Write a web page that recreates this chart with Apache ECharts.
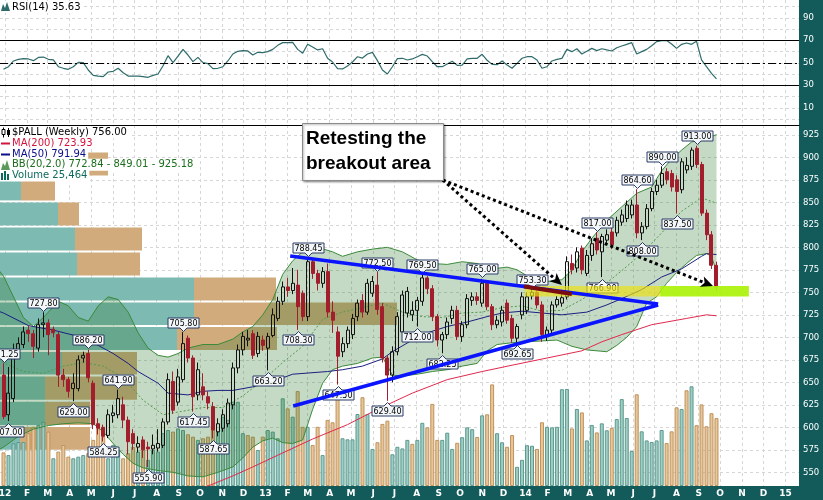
<!DOCTYPE html>
<html>
<head>
<meta charset="utf-8">
<script src="https://cdn.jsdelivr.net/npm/echarts@6/dist/echarts.min.js"></script>
<style>
  html, body { margin: 0; padding: 0; background: #fff; }
  #chart { width: 823px; height: 500px; }
</style>
</head>
<body>
<div id="chart"></div>
<script>
// weekly bars, week 0 = Fri 30 Dec 2011 ... week 143 = Fri 26 Sep 2014
const FIRST_WEEK = Date.UTC(2011, 11, 30)
const WEEK_MS = 7 * 86400000
const monthLetters = ['J', 'F', 'M', 'A', 'M', 'J', 'J', 'A', 'S', 'O', 'N', 'D']
const yearLabels = { 2012: '12', 2013: '13', 2014: '14', 2015: '15' }

// [open, close, low, high]
const candles = [
  [658, 612, 609, 671.25], [614, 638, 607, 667], [632, 682, 628, 693], [680, 693, 676, 700], [692, 706, 688, 712],
  [708, 704, 695, 713], [704, 690, 677, 708], [688, 714, 684, 721], [714, 716, 700, 727.8], [716, 703, 680, 720],
  [709, 705, 700, 712], [703, 658, 645, 706], [658, 653, 645, 665], [653, 640, 633, 656], [643, 649, 629, 660],
  [643, 675, 640, 680], [677, 680, 672, 684], [682, 655, 650, 686.2], [649, 603, 598, 652], [604, 599, 592, 610],
  [600, 590, 584.25, 603], [591, 614, 588, 620], [613, 616, 605, 625], [614, 632, 610, 641.9], [625, 608, 599, 634],
  [608, 584, 570, 612], [593, 582, 575, 598], [578, 582, 572, 590], [586, 575, 566, 590], [578, 576, 555.9, 584],
  [576, 580, 570, 592], [577, 582, 573, 598], [580, 606, 577, 610], [606, 653, 603, 660], [651, 619, 615, 662],
  [628, 656, 624, 665], [653, 693, 650, 705.8], [699, 677, 672, 702], [677, 634, 617.45, 680], [636, 664, 630, 672],
  [645, 636, 630, 660], [634, 627, 620, 640], [623, 597, 587.65, 628], [595, 604, 590, 610], [599, 614, 595, 620],
  [604, 627, 600, 632], [625, 666, 620, 672], [666, 686, 660, 692], [686, 701, 680, 706], [697, 699, 690, 708],
  [704, 680, 676, 708], [682, 701, 678, 706], [697, 691, 685, 702], [688, 701, 663.2, 705], [702, 725, 700, 732],
  [721, 740, 718, 745], [740, 756, 736, 762], [756, 752, 745, 766], [752, 760, 748, 777], [758, 734, 708.3, 775],
  [749, 723, 718, 752], [723, 784, 718, 788.45], [784, 771, 765, 788], [771, 760, 752, 775], [760, 773, 755, 778],
  [773, 728, 722, 782], [728, 719, 705, 740], [706, 679, 647.5, 712], [684, 693, 678, 700], [693, 708, 688, 712],
  [703, 721, 698, 726], [723, 738, 718, 742], [741, 728, 722, 748], [728, 760, 725, 765], [749, 762, 745, 768],
  [758, 731, 725, 772.5], [734, 677, 672, 738], [677, 658, 629.4, 680], [658, 684, 650, 690], [684, 723, 680, 728],
  [706, 747, 700, 752], [727, 751, 722, 756], [725, 730, 718, 740], [730, 741, 712, 745], [740, 766, 735, 769.5],
  [766, 754, 748, 768], [754, 723, 718, 758], [723, 697, 690, 726], [697, 703, 682.25, 706], [703, 717, 698, 722],
  [721, 730, 715, 735], [730, 701, 697, 735], [701, 714, 695, 718], [714, 743, 710, 748], [741, 745, 735, 750],
  [745, 741, 736, 750], [738, 760, 734, 765], [760, 734, 730, 762], [734, 714, 708, 737], [714, 719, 710, 724],
  [717, 730, 712, 735], [738, 719, 715, 742], [721, 699, 694, 725], [699, 712, 692.65, 715], [725, 745, 720, 750],
  [730, 745, 726, 750], [746, 750, 742, 753.3], [750, 736, 732, 752], [736, 703, 695, 740], [701, 708, 696, 712],
  [708, 736, 704, 740], [736, 742, 733, 746], [738, 744, 734, 748], [745, 784, 742, 790], [782, 775, 770, 792],
  [777, 795, 772, 800], [799, 775, 770, 802], [771, 791, 768, 797], [791, 804, 785, 810], [810, 797, 792, 817],
  [795, 812, 766.9, 815], [808, 814, 804, 820], [817, 803, 798, 822], [816, 830, 812, 834], [828, 836, 824, 842],
  [832, 847, 828, 852], [836, 847, 832, 853], [847, 816, 810, 864.6], [816, 823, 808, 828], [823, 843, 820, 848],
  [843, 862, 840, 866], [862, 869, 858, 875], [869, 882, 866, 890], [884, 875, 870, 888], [882, 867, 862, 886],
  [875, 862, 837.5, 880], [864, 895, 860, 899], [886, 891, 882, 900], [890, 908, 886, 911], [910, 892, 888, 913],
  [892, 838, 835, 895], [838, 814, 808, 842], [814, 780, 776, 818], [780, 756, 752, 784]
]

// weekly volume, thousands
const volumes = [
  12.6, 11.6, 16.0, 16.5, 16.5, 19.8, 22.2, 22.9, 24.1, 20.4, 10.4, 12.9, 15.4, 11.0, 10.4, 11.0, 11.6, 12.3, 17.3, 21.6,
  18.5, 10.4, 15.4, 13.5, 10.4, 12.3, 14.7, 12.9, 13.5, 9.8, 13.5, 12.9, 19.8, 21.0, 20.4, 21.6, 21.0, 19.4, 18.5, 17.3,
  17.9, 18.5, 22.2, 20.4, 26.0, 24.8, 31.6, 31.6, 19.8, 19.1, 18.5, 13.5, 18.5, 21.0, 20.4, 17.9,
  32.9, 29.1, 26.0, 35.6, 22.2, 22.2, 15.4, 22.2, 11.6, 24.8, 23.9, 33.5, 17.9, 17.5, 17.5, 27.0, 33.3, 27.0, 13.9, 16.4,
  23.3, 24.5, 11.9, 14.7, 14.1, 17.3, 15.8, 17.3, 23.7, 22.0, 30.8, 17.3, 17.3, 20.0, 13.9, 16.2, 18.3, 22.0, 21.3, 18.4,
  26.5, 26.9, 38.1, 19.8, 16.4, 14.7, 19.1, 7.2, 9.8, 15.3, 15.1, 13.9, 23.9, 22.2, 22.0, 22.2, 36.3, 36.4, 21.6, 28.9,
  27.6, 17.1, 22.9, 20.1, 23.5, 20.9, 21.8, 25.1, 32.6, 25.5, 13.1, 34.4, 20.5, 17.1, 16.5, 17.1, 21.0, 16.1, 20.5, 29.5,
  28.9, 35.9, 37.4, 22.8, 30.6, 22.4, 27.3, 25.464
]

const rsi = [
  44.2, 46.5, 51.6, 53.0, 53.7, 53.4, 51.9, 54.8, 55.1, 53.1, 52.5, 46.5, 45.1, 44.2, 46.5, 50.4, 50.1, 43.6, 38.8, 38.2,
  37.7, 41.8, 42.4, 45.1, 41.2, 38.2, 38.2, 38.2, 37.7, 37.1, 38.8, 40.0, 47.4, 56.3, 50.1, 56.0, 61.9, 56.9, 51.0, 54.8,
  50.1, 49.2, 44.8, 45.1, 46.5, 51.6, 57.8, 60.2, 60.8, 60.5, 56.9, 59.3, 59.0, 59.9, 61.9, 65.5, 67.9, 67.9, 68.2, 61.9,
  58.4, 66.4, 64.0, 61.4, 62.5, 54.0, 50.7, 44.8, 44.5, 47.1, 50.7, 55.4, 54.2, 57.8, 59.3, 51.9, 43.6, 40.0, 46.5, 53.7,
  54.0, 52.5, 53.4, 55.4, 57.5, 56.0, 51.0, 46.5, 46.5, 48.9, 51.3, 47.7, 48.0, 53.4, 54.0, 54.0, 57.5, 52.2, 48.6, 48.3,
  51.6, 48.0, 45.1, 49.5, 54.0, 55.4, 55.4, 52.5, 45.1, 46.5, 51.6, 53.0, 53.9, 61.9, 59.9, 62.5, 57.8, 60.2, 62.8, 60.8,
  62.5, 61.4, 60.5, 63.4, 64.9, 66.4, 67.9, 57.8, 59.9, 61.9, 65.2, 68.8, 69.7, 69.7, 66.7, 62.8, 66.4, 67.6, 66.4, 69.1,
  52.5, 46.5, 40.6, 35.63
]

// indicator lines, [week, value]
const ma50 = [[-1, 729], [0, 727], [5, 713], [10, 708], [15, 701], [19, 691], [22, 682], [25, 671], [27, 662], [31, 649], [33, 638],
  [37, 636], [40, 640], [43, 641], [46, 641], [50, 645], [54, 651], [58, 659], [65, 662], [68, 664], [72, 668], [76, 676],
  [78, 684], [82, 697], [85, 705], [89, 712], [93, 717], [97, 723], [100, 727], [104, 729], [108, 727], [112, 725], [117, 728],
  [121, 736], [124, 743], [128, 753], [132, 767], [136, 776], [140, 790], [141, 793], [143, 791.94]]
const ma200 = [[38, 528], [42, 537], [46, 546], [50, 556], [55, 569], [62, 587], [69, 603], [75, 620], [82, 638], [89, 653],
  [96, 662], [102, 669], [109, 677], [116, 685], [120, 695], [124, 703], [130, 714], [137, 721], [141, 725], [143, 723.93]]
const bbUpper = [[-1, 775], [0, 768], [2, 745], [4, 722], [6, 712], [8, 722], [11, 740], [13, 735], [15, 722], [17, 718], [19, 735],
  [21, 745], [23, 742], [25, 728], [27, 705], [29, 688], [31, 680], [33, 678], [35, 682], [37, 688], [40, 692], [43, 692],
  [46, 698], [48, 706], [50, 712], [52, 725], [54, 742], [56, 770], [58, 785], [60, 795], [63, 800], [66, 795], [68, 790],
  [71, 795], [74, 798], [77, 800], [80, 795], [83, 786], [86, 782], [89, 781], [92, 784], [95, 782], [98, 776], [101, 778],
  [103, 775], [106, 765], [109, 762], [112, 764], [114, 775], [116, 795], [118, 810], [121, 830], [124, 845], [127, 860],
  [130, 867], [132, 885], [134, 898], [136, 908], [138, 917], [141, 921], [143, 925.18]]
const bbMid = [[-1, 675], [0, 672], [4, 662], [8, 660], [12, 668], [16, 672], [20, 668], [24, 655], [28, 630], [32, 614], [36, 618],
  [40, 622], [44, 622], [48, 635], [52, 652], [56, 672], [60, 690], [64, 720], [68, 728], [72, 733], [76, 738], [80, 728],
  [84, 723], [88, 722], [92, 727], [96, 728], [100, 733], [104, 735], [108, 729], [112, 730], [116, 742], [120, 756],
  [124, 774], [128, 793], [132, 816], [136, 840], [140, 855], [143, 849.01]]
const bbLower = [[-1, 575], [0, 578], [3, 590], [6, 598], [9, 602], [12, 604], [15, 605], [18, 604], [20, 595], [22, 582], [24, 570],
  [26, 560], [28, 555], [31, 552], [34, 550], [37, 546], [40, 545], [43, 550], [46, 556], [48, 566], [50, 578], [52, 585],
  [54, 588], [56, 583], [58, 582], [60, 586], [62, 620], [64, 649], [66, 664], [68, 668], [71, 671], [74, 677], [76, 678],
  [78, 658], [80, 657], [83, 659], [86, 662], [89, 664], [92, 668], [95, 671], [97, 685], [99, 692], [102, 694], [105, 695],
  [108, 696], [111, 697], [114, 690], [117, 686], [121, 684], [123, 691], [125, 700], [127, 712], [129, 738], [131, 745],
  [133, 760], [135, 772], [137, 782], [139, 791], [141, 793], [142, 790], [143, 772.84]]

// volume by price: [price low, price high, up volume, down volume]
const vbpRows = [
  [574, 601.6, 200, 700], [601.6, 629.4, 450, 450], [629.4, 657.6, 450, 920], [657.6, 684.8, 620, 750],
  [684.8, 712.6, 1770, 1000], [712.6, 739.8, 1940, 2030], [739.8, 767.6, 1940, 820], [767.6, 795.3, 770, 630],
  [795.3, 823.1, 750, 670], [823.1, 851, 580, 210], [851, 878.7, 210, 340], [878.7, 906.5, 500, 580]
]

// annotated swing highs / lows [week, price]
const highLabels = [[0, 671.25], [8, 727.8], [17, 686.2], [23, 641.9], [36, 705.8], [61, 788.45], [75, 772.5], [84, 769.5],
  [96, 765], [106, 753.3], [119, 817], [127, 864.6], [132, 890], [139, 913]]
const lowLabels = [[1, 607], [14, 629], [20, 584.25], [29, 555.9], [38, 617.45], [42, 587.65], [53, 663.2], [59, 708.3],
  [67, 647.5], [77, 629.4], [83, 712], [88, 682.25], [103, 692.65], [120, 766.9], [128, 808], [135, 837.5]]

// drawn annotations [week, price]
const trendUpper = [[57.5, 790.4], [131.3, 737.0]]
const trendLower = [[58.1, 623.7], [131.3, 735.9]]
const retestLine = [[104.4, 756.5], [114, 748.1]]
const arrowFrom = [88.1, 874.8]
const arrowTo = [[112, 758], [142.3, 757]]
const retestZone = [745.4, 757]
const zoneSpans = [[104.6, 131.7, 'rgba(236,226,20,0.68)'], [131.7, 149.5, 'rgba(172,242,10,0.92)']]

// month gridlines
const monthTicks = []
const monthLabels = []
for (let y = 2012; y <= 2015; y++) {
  for (let m = 0; m < 12; m++) {
    if (y === 2015 && m > 0) break
    monthTicks.push((Date.UTC(y, m, 1) - FIRST_WEEK) / WEEK_MS)
    monthLabels.push(m === 0 ? yearLabels[y] : monthLetters[m])
  }
}

const X_MIN = -0.702
const X_MAX = 159.55
const FONT = 'DejaVu Sans'
const TEAL = '#135b5b'

const chart = echarts.init(document.getElementById('chart'))

const xBase = {
  type: 'value', min: X_MIN, max: X_MAX,
  axisTick: { show: false, customValues: monthTicks },
  splitLine: { show: true, lineStyle: { color: '#d6d6d6', type: [3, 3] } }
}

const upStyle = { color: '#9fccc3', borderColor: '#5a9a8f', borderWidth: 1 }
const downStyle = { color: '#e6c69d', borderColor: '#c09258', borderWidth: 1 }

const lineSeries = (data, color, width, type, z) => ({
  type: 'line', xAxisIndex: 1, yAxisIndex: 1, data, z, showSymbol: false, silent: true,
  lineStyle: { color, width, type }
})

const legendText = (text, y, color) => ({
  type: 'text', z: 100,
  style: { text, x: 0, y, font: `10px "${FONT}"`, fill: color, backgroundColor: '#fff', padding: [1, 2, 1, 12], verticalAlign: 'middle' }
})

chart.setOption({
  animation: false,
  backgroundColor: '#fff',
  textStyle: { fontFamily: FONT },
  grid: [
    { left: 0, right: 24, top: 0, height: 125, outerBoundsMode: 'none', containLabel: false },
    { left: 0, right: 24, top: 125, bottom: 14, outerBoundsMode: 'none', containLabel: false }
  ],
  xAxis: [
    Object.assign({}, xBase, { gridIndex: 0, axisLabel: { show: false }, axisLine: { show: true, onZero: false, lineStyle: { color: '#000' } } }),
    Object.assign({}, xBase, {
      gridIndex: 1, axisLine: { show: false },
      axisLabel: {
        customValues: monthTicks, color: '#fff', fontWeight: 'bold', fontSize: 9, margin: 3,
        formatter: (v) => {
          const k = monthTicks.findIndex(t => Math.abs(t - v) < 1e-6)
          return k >= 0 ? monthLabels[k] : ''
        }
      }
    }),
    { type: 'value', gridIndex: 1, min: 0, max: 7990, show: false }
  ],
  yAxis: [
    {
      type: 'value', gridIndex: 0, position: 'right', min: -5.3, max: 105.8,
      axisLine: { show: false },
      axisTick: { show: false, customValues: [0, 10, 20, 30, 40, 50, 60, 70, 80, 90, 100] },
      axisLabel: { customValues: [10, 30, 50, 70, 90], color: '#fff', fontSize: 8.5, margin: 4 },
      splitLine: { show: true, lineStyle: { color: '#d6d6d6', type: [3, 3] } }
    },
    {
      type: 'value', gridIndex: 1, position: 'right', min: 534.8, max: 935.9,
      axisLine: { show: false },
      axisTick: { show: false, customValues: [550, 575, 600, 625, 650, 675, 700, 725, 750, 775, 800, 825, 850, 875, 900, 925] },
      axisLabel: { customValues: [550, 575, 600, 625, 650, 675, 700, 725, 750, 775, 800, 825, 850, 875, 900, 925], color: '#fff', fontSize: 8.5, margin: 4 },
      splitLine: { show: true, lineStyle: { color: '#d6d6d6', type: [3, 3] } }
    },
    { type: 'value', gridIndex: 1, min: 0, max: 135.4, show: false }
  ],
  series: [
    {
      type: 'line', name: 'RSI', xAxisIndex: 0, yAxisIndex: 0, showSymbol: false, silent: true,
      data: rsi.map((v, i) => [i, v]),
      lineStyle: { color: '#2f6b6b', width: 1.2 },
      markLine: {
        silent: true, symbol: 'none', label: { show: false },
        data: [
          { yAxis: 70, lineStyle: { color: '#000', width: 1, type: 'solid' } },
          { yAxis: 30, lineStyle: { color: '#000', width: 1, type: 'solid' } },
          { yAxis: 50, lineStyle: { color: '#000', width: 1, type: [8, 3, 2, 3] } }
        ]
      }
    },
    {
      type: 'custom', name: 'Volume by price', xAxisIndex: 2, yAxisIndex: 1, z: 1, silent: true,
      data: vbpRows, encode: { x: [2, 3], y: [0, 1] },
      renderItem: (params, api) => {
        const top = api.coord([0, api.value(1)])
        const mid = api.coord([api.value(2), api.value(0)])
        const end = api.coord([api.value(2) + api.value(3), api.value(0)])
        const h = mid[1] - top[1] - 2
        return {
          type: 'group', children: [
            { type: 'rect', shape: { x: top[0], y: top[1] + 1, width: mid[0] - top[0], height: h }, style: { fill: '#7dbab2' } },
            { type: 'rect', shape: { x: mid[0], y: top[1] + 1, width: end[0] - mid[0], height: h }, style: { fill: '#d2ab7d' } }
          ]
        }
      }
    },
    {
      type: 'bar', name: 'Volume', xAxisIndex: 1, yAxisIndex: 2, z: 2, barWidth: 4, silent: true,
      data: volumes.map((v, i) => {
        const up = i === 0 ? candles[0][1] > candles[0][0] : candles[i][1] >= candles[i - 1][1]
        return { value: [i, v], itemStyle: up ? upStyle : downStyle }
      })
    },
    {
      type: 'custom', name: 'BB band', xAxisIndex: 1, yAxisIndex: 1, z: 3, silent: true, clip: true, data: [0],
      renderItem: (params, api) => {
        const pts = bbUpper.map(p => api.coord(p)).concat(bbLower.slice().reverse().map(p => api.coord(p)))
        return { type: 'polygon', shape: { points: pts }, style: { fill: 'rgba(40,120,40,0.27)' } }
      }
    },
    lineSeries(bbUpper, '#3b8a3b', 1, 'solid', 4),
    lineSeries(bbLower, '#3b8a3b', 1, 'solid', 4),
    lineSeries(bbMid, '#4f9a4f', 1, [2, 2], 4),
    lineSeries(ma50, '#1b1f80', 1, 'solid', 4),
    lineSeries(ma200, '#e0284e', 1, 'solid', 4),
    {
      type: 'candlestick', name: '$PALL', xAxisIndex: 1, yAxisIndex: 1, z: 5, barWidth: 3.5, silent: true,
      data: candles.map((c, i) => [i, c[0], c[1], c[2], c[3]]),
      itemStyle: { color: 'rgba(0,0,0,0)', color0: '#a31e2d', borderColor: '#111', borderColor0: '#a31e2d', borderWidth: 1 }
    },
    {
      type: 'custom', name: 'Price labels', xAxisIndex: 1, yAxisIndex: 1, z: 6, silent: true,
      data: highLabels.map(p => [p[0], p[1], 1]).concat(lowLabels.map(p => [p[0], p[1], -1])),
      encode: { x: 0, y: 1 },
      renderItem: (params, api) => {
        const pt = api.coord([api.value(0), api.value(1)])
        const dir = api.value(2)
        const x = Math.round(pt[0]) + 0.5
        const tip = Math.round(pt[1] - dir * 1.5) + 0.5
        const base = tip - dir * 3.5
        const far = base - dir * 10
        const w = 15.5
        return {
          type: 'group', children: [
            {
              type: 'polygon',
              shape: { points: [[x - w, far], [x + w, far], [x + w, base], [x + 3.5, base], [x, tip], [x - 3.5, base], [x - w, base]] },
              style: { fill: '#f3f7f9', stroke: '#2b3a66', lineWidth: 1 }
            },
            {
              type: 'text',
              style: { text: api.value(1).toFixed(2), x: x, y: (base + far) / 2 + 0.5, align: 'center', verticalAlign: 'middle', font: `8px "${FONT}"`, fill: '#000' }
            }
          ]
        }
      }
    },
    {
      type: 'custom', name: 'Retest zone', xAxisIndex: 1, yAxisIndex: 1, z: 7, silent: true,
      data: zoneSpans, encode: { x: [0, 1] },
      renderItem: (params, api) => {
        const a = api.coord([api.value(0), retestZone[1]])
        const b = api.coord([api.value(1), retestZone[0]])
        return { type: 'rect', shape: { x: a[0], y: a[1], width: b[0] - a[0], height: b[1] - a[1] }, style: { fill: zoneSpans[params.dataIndex][2] } }
      }
    },
    lineSeries(trendLower, '#0a14ff', 3.5, 'solid', 8),
    lineSeries(trendUpper, '#0a14ff', 3.5, 'solid', 8),
    lineSeries(retestLine, '#7a0d10', 4, 'solid', 9),
    {
      type: 'custom', name: 'Arrows', xAxisIndex: 1, yAxisIndex: 1, z: 10, silent: true,
      data: arrowTo, encode: { x: 0, y: 1 },
      renderItem: (params, api) => {
        const a = api.coord(arrowFrom)
        const b = api.coord([api.value(0), api.value(1)])
        const dx = b[0] - a[0], dy = b[1] - a[1]
        const len = Math.hypot(dx, dy), ux = dx / len, uy = dy / len
        const head = 12, half = 5.5
        const bx = b[0] - ux * head, by = b[1] - uy * head
        return {
          type: 'group', children: [
            { type: 'line', shape: { x1: a[0], y1: a[1], x2: bx + ux * 3, y2: by + uy * 3 }, style: { stroke: '#000', lineWidth: 3, lineDash: [3, 3] } },
            { type: 'polygon', shape: { points: [[b[0], b[1]], [bx - uy * half, by + ux * half], [bx + ux * 3, by + uy * 3], [bx + uy * half, by - ux * half]] }, style: { fill: '#000' } }
          ]
        }
      }
    }
  ],
  graphic: [
    { type: 'rect', z: -10, shape: { x: 799, y: 0, width: 24, height: 500 }, style: { fill: TEAL } },
    { type: 'rect', z: -10, shape: { x: 0, y: 486, width: 823, height: 14 }, style: { fill: TEAL } },
    // RSI legend
    legendText('RSI(14) 35.63', 7, '#000'),
    { type: 'polygon', z: 101, shape: { points: [[1, 11], [3, 4], [5, 8], [7, 2], [10, 11]] }, style: { fill: '#2f6b6b' } },
    // price legend
    legendText('$PALL (Weekly) 756.00', 132.5, '#000'),
    legendText('MA(200) 723.93', 143.3, '#d4143c'),
    legendText('MA(50) 791.94', 154, '#0c0c8a'),
    legendText('BB(20,2.0) 772.84 - 849.01 - 925.18', 164.8, '#1b6e1b'),
    legendText('Volume 25,464', 175.5, '#0b6b5b'),
    { type: 'line', z: 101, shape: { x1: 3.5, y1: 127.5, x2: 3.5, y2: 137.5 }, style: { stroke: '#000', lineWidth: 1 } },
    { type: 'rect', z: 102, shape: { x: 2, y: 129.5, width: 3, height: 5 }, style: { fill: '#fff', stroke: '#000', lineWidth: 1 } },
    { type: 'line', z: 101, shape: { x1: 8.5, y1: 128, x2: 8.5, y2: 137 }, style: { stroke: '#000', lineWidth: 1 } },
    { type: 'rect', z: 102, shape: { x: 7, y: 130, width: 3, height: 5 }, style: { fill: '#000' } },
    { type: 'line', z: 101, shape: { x1: 1, y1: 143.5, x2: 10, y2: 143.5 }, style: { stroke: '#d4143c', lineWidth: 2 } },
    { type: 'line', z: 101, shape: { x1: 1, y1: 154.5, x2: 10, y2: 154.5 }, style: { stroke: '#0c0c8a', lineWidth: 2 } },
    { type: 'polygon', z: 101, shape: { points: [[1, 170], [3, 163], [5, 166], [7, 160], [10, 170]] }, style: { fill: '#5a9a5a' } },
    { type: 'rect', z: 101, shape: { x: 1, y: 173, width: 2, height: 7 }, style: { fill: '#0b6b5b' } },
    { type: 'rect', z: 101, shape: { x: 4, y: 171, width: 2, height: 9 }, style: { fill: '#0b6b5b' } },
    { type: 'rect', z: 101, shape: { x: 7, y: 174, width: 2, height: 6 }, style: { fill: '#0b6b5b' } },
    // annotation
    {
      type: 'rect', z: 110, shape: { x: 302.5, y: 123.5, width: 141, height: 57 },
      style: { fill: '#fff', stroke: '#8c8c8c', lineWidth: 1, shadowBlur: 2, shadowOffsetX: 1, shadowOffsetY: 1, shadowColor: 'rgba(0,0,0,0.35)' }
    },
    { type: 'text', z: 111, style: { text: 'Retesting the', x: 306, y: 138.5, font: 'bold 19px "Liberation Sans"', fill: '#000', verticalAlign: 'middle' } },
    { type: 'text', z: 111, style: { text: 'breakout area', x: 306, y: 163.5, font: 'bold 19px "Liberation Sans"', fill: '#000', verticalAlign: 'middle' } }
  ]
})
</script>
</body>
</html>
